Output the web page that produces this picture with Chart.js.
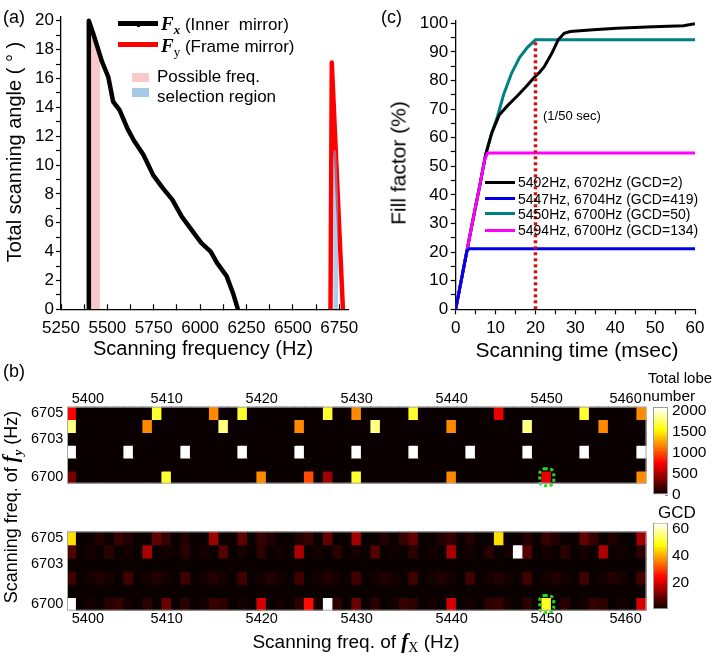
<!DOCTYPE html>
<html><head><meta charset="utf-8">
<script src="https://cdn.jsdelivr.net/npm/chart.js@4.4.1/dist/chart.umd.min.js"></script>
<style>
html,body{margin:0;padding:0;background:#fff;}
#fig{position:relative;width:716px;height:658px;overflow:hidden;font-family:'Liberation Sans',Arial,sans-serif;color:#000;}
#fig canvas{position:absolute;}
.t{position:absolute;white-space:nowrap;line-height:1;transform:translateY(-50%);}
.r{position:absolute;white-space:nowrap;line-height:1;transform:translate(-50%,-50%) rotate(-90deg);}
.c{position:absolute;white-space:nowrap;line-height:1;transform:translate(-50%,-50%);}
.f{font-family:'Liberation Serif','Times New Roman',serif;font-weight:bold;font-style:italic;}
.sw{position:absolute;}
</style></head><body>
<div id="fig">
<canvas id="cA" width="372" height="345" style="left:0;top:0"></canvas>
<canvas id="cC" width="336" height="345" style="left:380px;top:0"></canvas>
<canvas id="cT" width="660" height="125" style="left:0;top:375px"></canvas>
<canvas id="cB" width="660" height="130" style="left:0;top:515px"></canvas>
<canvas id="cbT" width="76" height="125" style="left:640px;top:390px"></canvas>
<canvas id="cbB" width="76" height="125" style="left:640px;top:505px"></canvas>

<div class="t" style="left:3px;top:17px;font-size:18px">(a)</div>
<div class="t" style="left:381px;top:17px;font-size:18px">(c)</div>
<div class="t" style="left:3px;top:371px;font-size:18px">(b)</div>

<div class="r" style="left:14px;top:152px;font-size:20px">Total scanning angle (&nbsp;°&nbsp;)</div>
<div class="c" style="left:203px;top:348px;font-size:20px">Scanning frequency (Hz)</div>
<div class="r" style="left:398px;top:163px;font-size:21px">Fill factor (%)</div>
<div class="c" style="left:577px;top:349px;font-size:21px">Scanning time (msec)</div>
<div class="r" style="left:12px;top:507px;font-size:18px">Scanning freq. of <span class="f" style="font-size:20px">f</span><sub class="f" style="font-size:13px">y</sub> (Hz)</div>
<div class="c" style="left:356px;top:643px;font-size:19px">Scanning freq. of <span class="f" style="font-size:21px">f</span><sub style="font-family:'Liberation Serif',serif;font-size:14px">X</sub> (Hz)</div>

<!-- legend (a) -->
<div class="sw" style="left:118px;top:20.5px;width:40px;height:5px;background:#000"></div>
<div class="sw" style="left:137px;top:24px;width:3px;height:3px;background:#000"></div>
<div class="t" style="left:161px;top:25px;font-size:17px"><span class="f" style="font-size:19px">F</span><sub class="f" style="font-size:13px">x</sub> (Inner&nbsp; mirror)</div>
<div class="sw" style="left:118px;top:42px;width:40px;height:5px;background:#ff0000"></div>
<div class="t" style="left:161px;top:47px;font-size:17px"><span class="f" style="font-size:19px">F</span><sub style="font-family:'Liberation Serif',serif;font-size:13px">y</sub> (Frame mirror)</div>
<div class="sw" style="left:132px;top:73px;width:17px;height:9px;background:#f8c8cc"></div>
<div class="sw" style="left:132px;top:88px;width:17px;height:9px;background:#a6c8e8"></div>
<div class="t" style="left:157px;top:76px;font-size:17px">Possible freq.</div>
<div class="t" style="left:157px;top:96px;font-size:17px">selection region</div>

<!-- legend (c) -->
<div class="sw" style="left:485px;top:180.5px;width:30px;height:3px;background:#000"></div>
<div class="t" style="left:518px;top:182px;font-size:14px">5402Hz, 6702Hz (GCD=2)</div>
<div class="sw" style="left:485px;top:197px;width:30px;height:3px;background:#0000e6"></div>
<div class="t" style="left:518px;top:198.5px;font-size:14px">5447Hz, 6704Hz (GCD=419)</div>
<div class="sw" style="left:485px;top:212px;width:30px;height:3px;background:#008080"></div>
<div class="t" style="left:518px;top:213.5px;font-size:14px">5450Hz, 6700Hz (GCD=50)</div>
<div class="sw" style="left:485px;top:228.5px;width:30px;height:3px;background:#ff00ff"></div>
<div class="t" style="left:518px;top:230px;font-size:14px">5494Hz, 6700Hz (GCD=134)</div>
<div class="t" style="left:543px;top:115px;font-size:13px">(1/50 sec)</div>

<div class="c" style="left:680px;top:377px;font-size:15px">Total lobe</div>
<div class="c" style="left:669px;top:396px;font-size:15.5px">number</div>
<div class="c" style="left:677px;top:512px;font-size:17px">GCD</div>
</div>

<script>
// ---------------- Panel (a) ----------------
const fxFreq  = [5400,5400,5424,5470,5505,5531,5566,5609,5643,5695,5747,5799,5850,5902,5954,6006,6057,6092,6143,6178,6204];
const fxAngle = [0,20,19.1,17.2,16.1,14.4,13.8,12.5,11.7,10.7,9.3,8.4,7.6,6.4,5.5,4.6,4.0,3.2,2.3,1.1,0];
const fyFreq  = [6703,6710,6770];
const fyAngle = [0,17.1,0];
const pinkFreq  = [5400,5400,5424,5460,5460];
const pinkAngle = [0,20,19.1,17.6,0];
const blueFreq  = [6718,6718,6733,6744,6744];
const blueAngle = [0,11,11,7.5,0];
const angleFreqTicks = [5250,5375,5500,5625,5750,5875,6000,6125,6250,6375,6500,6625,6750];
const angleTicks = [0,1,2,3,4,5,6,7,8,9,10,11,12,13,14,15,16,17,18,19,20];

// ---------------- Panel (c) ----------------
const tBlack   = [0,2,4,6,7.5,9,10.9,13,15.3,17.5,19.5,21,22.2,24.1,25.7,27.2,28.7,34.5,40.4,49.5,57.1,60];
const ffBlack  = [0,14.5,29,43,54,61.5,67.9,71.2,74.4,77.6,80.8,82.8,84.8,89.5,94.2,96.5,97.1,97.7,98.25,98.8,99.1,99.8];
const tTeal    = [0,2,4,6,7.5,9,10.5,12,14,16,18,20,60];
const ffTeal   = [0,14.5,29,43,54,61.5,67.5,75,82.5,88,91.6,94.2,94.2];
const tMagenta = [0,2,4,6,7.3,8,60];
const ffMagenta= [0,14.5,29,43,52.5,54.6,54.6];
const tBlue    = [0,1,2,2.8,3.3,60];
const ffBlue   = [0,7.3,14.5,20.3,21.2,21.2];
const tMark    = [20,20];
const ffMark   = [0,94];
const timeTicks = [0,5,10,15,20,25,30,35,40,45,50,55,60];
const fillTicks = [0,5,10,15,20,25,30,35,40,45,50,55,60,65,70,75,80,85,90,95,100];

// ---------------- Panel (b) ----------------
const fxList = [5400,5401,5402,5403,5404,5405,5406,5407,5408,5409,5410,5411,5412,5413,5414,5415,5416,5417,5418,5419,
  5420,5421,5422,5423,5424,5425,5426,5427,5428,5429,5430,5431,5432,5433,5434,5435,5436,5437,5438,5439,
  5440,5441,5442,5443,5444,5445,5446,5447,5448,5449,5450,5451,5452,5453,5454,5455,5456,5457,5458,5459,5460];
const fyRows = [6705,6704,6703,6702,6701,6700];
const heatYLabels = [6700,6703,6705];
const lobeTicks = [0,500,1000,1500,2000];
const gcdTicks = [20,40,60];
const markFx = 5450, markFy = 6700;

// total lobe number: non-zero cells [fx, value] per row, all others 0
const lobe6705 = [[5400,760],[5409,1650],[5415,1200],[5418,1650],[5427,1650],[5430,1200],[5436,1650],[5445,720],[5454,1650],[5460,1200]];
const lobe6704 = [[5400,1820],[5408,1200],[5416,1820],[5424,1200],[5432,1820],[5440,1200],[5448,1820],[5456,1200]];
const lobe6703 = [];
const lobe6702 = [[5400,2100],[5406,2100],[5412,2100],[5418,2100],[5424,2100],[5430,2100],[5436,2100],[5442,2100],[5448,2100],[5454,2100],[5460,2100]];
const lobe6701 = [];
const lobe6700 = [[5400,340],[5410,1650],[5420,1200],[5425,1000],[5427,460],[5430,1650],[5440,1200],[5450,700],[5460,1200]];

// GCD of (fx, fy), one value per fx
const gcd6705 = [45,1,1,3,1,5,3,1,1,9, 5,1,3,1,1,15,1,1,9,1, 5,3,1,1,3,5,1,9,1,1, 15,1,1,3,1,5,9,1,1,3, 5,1,3,1,1,45,1,1,3,1, 5,3,1,1,9,5,1,3,1,1, 15];
const gcd6704 = [8,1,2,1,4,1,2,1,16,1, 2,1,4,1,2,1,8,1,2,1, 4,1,2,1,16,1,2,1,4,1, 2,1,8,1,2,1,4,1,2,1, 16,1,2,1,4,1,2,419,8,1, 2,1,4,1,2,1,16,1,2,1, 4];
const gcd6703 = [1,1,1,1,1,1,1,1,1,1, 1,1,1,1,1,1,1,1,1,1, 1,1,1,1,1,1,1,1,1,1, 1,1,1,1,1,1,1,1,1,1, 1,1,1,1,1,1,1,1,1,1, 1,1,1,1,1,1,1,1,1,1, 1];
const gcd6702 = [6,1,2,3,2,1, 6,1,2,3,2,1, 6,1,2,3,2,1, 6,1,2,3,2,1, 6,1,2,3,2,1, 6,1,2,3,2,1, 6,1,2,3,2,1, 6,1,2,3,2,1, 6,1,2,3,2,1, 6,1,2,3,2,1, 6];
const gcd6701 = [1,1,1,1,1,1,1,1,1,1, 1,1,1,1,1,1,1,1,1,1, 1,1,1,1,1,1,1,1,1,1, 1,1,1,1,1,1,1,1,1,1, 1,1,1,1,1,1,1,1,1,1, 1,1,1,1,1,1,1,1,1,1, 1];
const gcd6700 = [100,1,2,1,4,5,2,1,4,1, 10,1,4,1,2,5,4,1,2,1, 20,1,2,1,4,25,2,67,4,1, 10,1,4,1,2,5,4,1,2,1, 20,1,2,1,4,5,2,1,4,1, 50,1,4,1,2,5,4,1,2,1, 20];

const LOBE_MIN = 0, LOBE_MAX = 2100;
const GCD_MIN = 0.5, GCD_MAX = 64.5;

// ---------------- helpers ----------------
Chart.defaults.font.family = "'Liberation Sans', Arial, sans-serif";
Chart.defaults.color = '#000';
Chart.defaults.animation = false;

function hot64(idx){
  const r = Math.min(idx/24,1), g = Math.min(Math.max((idx-24)/24,0),1), b = Math.min(Math.max((idx-48)/16,0),1);
  return 'rgb(' + Math.round(r*255) + ',' + Math.round(g*255) + ',' + Math.round(b*255) + ')';
}
function idxFor(v, lo, hi){ return Math.min(64, Math.max(1, Math.floor((v-lo)/(hi-lo)*64) + 1)); }
const lobeColor = v => hot64(idxFor(v, LOBE_MIN, LOBE_MAX));
const gcdColor  = v => hot64(idxFor(v, GCD_MIN, GCD_MAX));

const pts = (xs, ys) => xs.map((x,i) => ({x, y: ys[i]}));
const noPlug = {legend:{display:false}, tooltip:{enabled:false}};
const tickSet = arr => s => { s.ticks = arr.map(v => ({value:v})); };

// ---------------- chart (a) ----------------
new Chart(document.getElementById('cA'), {
  type:'line',
  data:{datasets:[
    {data: pts(pinkFreq,pinkAngle), fill:'origin', backgroundColor:'#f8c8cc', borderWidth:0, pointRadius:0, order:4},
    {data: pts(fxFreq,fxAngle), borderColor:'#000', borderWidth:4.5, pointRadius:0, fill:false, order:3, borderJoinStyle:'round'},
    {data: pts(fyFreq,fyAngle), borderColor:'#ff0000', borderWidth:4.5, pointRadius:0, fill:false, order:2, borderJoinStyle:'round'},
    {data: pts(blueFreq,blueAngle), fill:'origin', backgroundColor:'rgba(120,170,225,0.6)', borderWidth:0, pointRadius:0, order:1}
  ]},
  options:{
    responsive:false, devicePixelRatio:1, plugins:noPlug,
    layout:{padding:{left:0, right:11.8, top:16.4, bottom:0}},
    scales:{
      x:{type:'linear', min:5250, max:6800, afterBuildTicks: tickSet(angleFreqTicks), afterFit: s => { s.height = 35.7; },
         ticks:{font:{size:17}, padding:13.5, maxRotation:0, autoSkip:false, callback: v => (v % 250 === 0 ? String(v) : '')},
         grid:{drawOnChartArea:false, tickLength:-5, tickColor:'#000', tickWidth:1.2},
         border:{color:'#000', width:1.3}},
      y:{type:'linear', min:0, max:20.3, afterBuildTicks: tickSet(angleTicks), afterFit: s => { s.width = 61; },
         ticks:{font:{size:17}, padding:2, autoSkip:false, callback: v => (v % 2 === 0 ? String(v) : '')},
         grid:{drawOnChartArea:false, tickLength:5, tickColor:'#000', tickWidth:1.2},
         border:{color:'#000', width:1.3}}
    }
  }
});

// ---------------- chart (c) ----------------
new Chart(document.getElementById('cC'), {
  type:'line',
  data:{datasets:[
    {data: pts(tTeal,ffTeal), borderColor:'#008080', borderWidth:3, pointRadius:0, order:4},
    {data: pts(tBlack,ffBlack), borderColor:'#000', borderWidth:3, pointRadius:0, order:3},
    {data: pts(tMagenta,ffMagenta), borderColor:'#ff00ff', borderWidth:3, pointRadius:0, order:2},
    {data: pts(tBlue,ffBlue), borderColor:'#0000e6', borderWidth:3, pointRadius:0, order:1},
    {data: pts(tMark,ffMark), borderColor:'#cc1111', borderWidth:3.5, borderDash:[3,3], pointRadius:0, order:0}
  ]},
  options:{
    responsive:false, devicePixelRatio:1, plugins:noPlug,
    layout:{padding:{left:0, right:21, top:20.4, bottom:0}},
    scales:{
      x:{type:'linear', min:0, max:60, afterBuildTicks: tickSet(timeTicks), afterFit: s => { s.height = 35.7; },
         ticks:{font:{size:17}, padding:3.5, maxRotation:0, autoSkip:false, callback: v => (v % 10 === 0 ? String(v) : '')},
         grid:{drawOnChartArea:false, tickLength:5, tickColor:'#000', tickWidth:1.2},
         border:{color:'#000', width:1.3}},
      y:{type:'linear', min:0, max:101, afterBuildTicks: tickSet(fillTicks), afterFit: s => { s.width = 75.7; },
         ticks:{font:{size:17}, padding:2.5, autoSkip:false, callback: v => (v % 10 === 0 ? String(v) : '')},
         grid:{drawOnChartArea:false, tickLength:5, tickColor:'#000', tickWidth:1.2},
         border:{color:'#000', width:1.3}}
    }
  }
});

// ---------------- heatmaps (b) ----------------
const frame = {id:'frame', afterDraw(ch){ const a = ch.chartArea, c = ch.ctx; c.save(); c.strokeStyle='#a8a8a8'; c.lineWidth=1; c.strokeRect(a.left+0.5, a.top+0.5, a.right-a.left-1, a.bottom-a.top-1); c.restore(); }};
const marker = {id:'marker', afterDatasetsDraw(ch){
  const x = ch.scales.x.getPixelForValue(fxList.indexOf(markFx));
  const y = ch.scales.y.getPixelForValue(markFy);
  const c = ch.ctx; c.save(); c.strokeStyle='#22dd22'; c.lineWidth=3; c.setLineDash([3,2.6]);
  c.beginPath(); c.roundRect(x-7, y-8.5, 14, 17, 5); c.stroke(); c.restore(); }};

function lobeRow(list){ return fxList.map(fx => { const h = list.find(p => p[0] === fx); return h ? h[1] : 0; }); }
const lobeRows = [lobe6705, lobe6704, lobe6703, lobe6702, lobe6701, lobe6700].map(lobeRow);
const gcdRows  = [gcd6705, gcd6704, gcd6703, gcd6702, gcd6701, gcd6700];

function heatmap(id, rows, colorFn, xPos, xH, pad, xPad){
  return new Chart(document.getElementById(id), {
    type:'bar',
    data:{labels: fxList.map(String), datasets: fyRows.map((fy, r) => ({
      data: fxList.map(() => [fy-0.5, fy+0.5]),
      backgroundColor: rows[r].map(colorFn),
      borderWidth:0, barPercentage:1, categoryPercentage:1, grouped:false, inflateAmount:0.6
    }))},
    options:{
      responsive:false, devicePixelRatio:1, plugins:noPlug,
      layout:{padding:pad},
      scales:{
        x:{type:'category', position:xPos, offset:true, afterFit: s => { s.height = xH; },
           afterBuildTicks: s => { s.ticks = s.ticks.filter(t => fxList[t.value] % 10 === 0); },
           ticks:{font:{size:14.5}, padding:xPad, maxRotation:0, autoSkip:false, align:'inner'},
           grid:{display:true, offset:false, drawOnChartArea:false, tickLength:-4, tickColor:'#888'},
           border:{display:false}},
        y:{type:'linear', min:6699.5, max:6705.5, afterBuildTicks: tickSet(fyRows), afterFit: s => { s.width = 67; },
           ticks:{font:{size:14.5}, padding:7.7, autoSkip:false, callback: v => (heatYLabels.includes(v) ? String(v) : '')},
           grid:{drawOnChartArea:false, tickLength:-4, tickColor:'#888'},
           border:{display:false}}
      }
    },
    plugins:[frame, marker]
  });
}
heatmap('cT', lobeRows, lobeColor, 'top', 31.7, {left:0, right:13.5, top:0, bottom:5}, 3.5);
heatmap('cB', gcdRows, gcdColor, 'bottom', 34.3, {left:0, right:13.5, top:6.7, bottom:0}, 4);

// ---------------- colorbars ----------------
function colorbar(id, lo, hi, ticks, pad){
  return new Chart(document.getElementById(id), {
    type:'bar',
    data:{labels:['cb'], datasets:[{
      data:[[lo, hi]],
      backgroundColor: ctx => {
        const ch = ctx.chart; if (!ch.chartArea) return '#000';
        const ys = ch.scales.y;
        const g = ch.ctx.createLinearGradient(0, ys.getPixelForValue(lo), 0, ys.getPixelForValue(hi));
        for (let i = 1; i <= 64; i++) { g.addColorStop((i-1)/64, hot64(i)); g.addColorStop(i/64 - 0.0001, hot64(i)); }
        return g;
      },
      borderColor:'#9a9a9a', borderWidth:1, borderSkipped:false, barPercentage:1, categoryPercentage:1, inflateAmount:0
    }]},
    options:{
      responsive:false, devicePixelRatio:1, plugins:noPlug,
      layout:{padding:pad},
      scales:{
        x:{display:false},
        y:{type:'linear', position:'right', min:lo, max:hi, afterBuildTicks: tickSet(ticks), afterFit: s => { s.width = 48; },
           ticks:{font:{size:15.5}, padding:7, autoSkip:false, callback: v => String(v)},
           grid:{drawOnChartArea:false, tickLength:-3, tickColor:'#888'},
           border:{display:false}}
      }
    }
  });
}
colorbar('cbT', LOBE_MIN, LOBE_MAX, lobeTicks, {left:13, right:0, top:17, bottom:20});
colorbar('cbB', GCD_MIN, GCD_MAX, gcdTicks, {left:13, right:0, top:17.7, bottom:20.7});
</script>
</body></html>
